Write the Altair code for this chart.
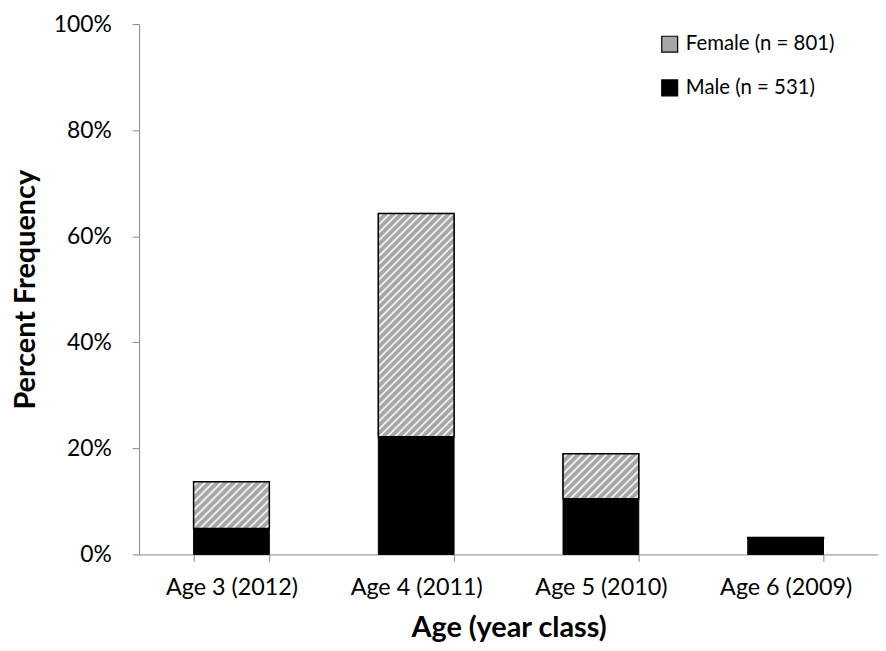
import altair as alt
import pandas as pd

ages = ["Age 3 (2012)", "Age 4 (2011)", "Age 5 (2010)", "Age 6 (2009)"]
male_pct = [4.9, 22.2, 10.5, 3.0]
female_pct = [8.8, 42.1, 8.5, 0.2]
series = ["Female (n = 801)", "Male (n = 531)"]
y_ticks = [0, 20, 40, 60, 80, 100]

W, H = 744, 534
PAD_IN = 0.59
GRAY = "#a6a6a6"
WHITE = "#ffffff"
FONT = "Lato"
AXIS_GRAY = "#868686"


def stripes(w, h, period=8.0):
    """Diagonal hatch as a linear gradient in objectBoundingBox units."""
    span = w + h
    n = max(1, int(round(span / period)))
    k = (w + h) / (w * w + h * h)
    stops = []
    for i in range(n):
        b = i / n
        stops += [
            {"offset": b, "color": GRAY},
            {"offset": b + 0.22 / n, "color": GRAY},
            {"offset": b + 0.50 / n, "color": WHITE},
            {"offset": b + 0.78 / n, "color": GRAY},
        ]
    stops.append({"offset": 1, "color": GRAY})
    return {"gradient": "linear", "x1": 0, "y1": 0, "x2": w * k, "y2": h * k, "stops": stops}


rows = []
for a, m, f in zip(ages, male_pct, female_pct):
    rows.append({"age": a, "sex": series[1], "low": 0.0, "high": m})
    rows.append({"age": a, "sex": series[0], "low": m, "high": m + f})
df = pd.DataFrame(rows)

x_enc = alt.X(
    "age:N",
    sort=ages,
    scale=alt.Scale(paddingInner=PAD_IN, paddingOuter=PAD_IN / 2),
    axis=alt.Axis(
        title="Age (year class)",
        labelAngle=0,
        tickBand="extent",
        tickSize=7,
        labelPadding=14,
        labelFontSize=23.5,
        titlePadding=15,
    ),
)
y_enc = alt.Y(
    "high:Q",
    scale=alt.Scale(domain=[0, 100], nice=False),
    axis=alt.Axis(
        title="Percent Frequency",
        values=y_ticks,
        labelExpr="datum.value + '%'",
        grid=False,
        tickSize=7,
        labelPadding=21,
        labelFontSize=23,
        titlePadding=13,
    ),
)

base = alt.Chart(df).mark_bar(stroke="black", strokeWidth=1).encode(
    x=x_enc,
    y=y_enc,
    y2="low:Q",
    color=alt.Color(
        "sex:N",
        scale=alt.Scale(domain=series, range=[GRAY, "#000000"]),
        legend=alt.Legend(
            title=None,
            orient="none",
            legendX=524,
            legendY=10,
            symbolType="square",
            symbolSize=256,
            symbolStrokeColor="black",
            symbolStrokeWidth=1.2,
            symbolOpacity=1,
            labelFont=FONT,
            labelFontSize=20.5,
            labelColor="black",
            labelOffset=6,
            rowPadding=22,
            padding=0,
        ),
    ),
)

step = W / len(ages)
bandwidth = step * (1 - PAD_IN)
layers = [base]
for a, f in zip(ages, female_pct):
    h = max(f * H / 100.0, 1.0)
    layers.append(
        alt.Chart(df)
        .transform_filter((alt.datum.age == a) & (alt.datum.sex == series[0]))
        .mark_bar(fill=stripes(bandwidth, h), stroke="black", strokeWidth=1.5)
        .encode(x=x_enc, y=y_enc, y2="low:Q")
    )

chart = (
    alt.layer(*layers)
    .properties(
        width=W,
        height=H,
        background="white",
        padding={"top": 3, "left": 3, "right": 0, "bottom": 3},
    )
    .configure_view(stroke=None)
    .configure_axis(
        domainColor=AXIS_GRAY,
        tickColor=AXIS_GRAY,
        domainWidth=1,
        tickWidth=1,
        labelFont=FONT,
        labelColor="black",
        titleFont=FONT,
        titleFontSize=29,
        titleFontWeight="bold",
        titleColor="black",
    )
)

chart.save("out.html", embed_options={"renderer": "svg", "actions": False})
